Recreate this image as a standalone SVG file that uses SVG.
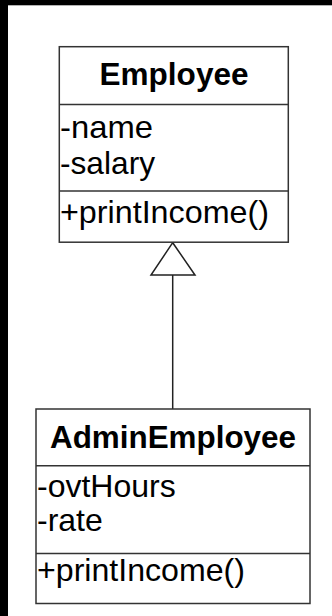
<svg xmlns="http://www.w3.org/2000/svg" width="332" height="616" viewBox="0 0 332 616">
<style>
.box{fill:#fff;stroke:#333;stroke-width:1.5}
.sep{stroke:#333;stroke-width:1.5}
.t{font-family:"Liberation Sans",Arial,sans-serif;font-size:32px;fill:#000}
.b{font-weight:bold}
.c{stroke:#222;stroke-width:1.5;fill:none}
</style>
<rect x="0" y="0" width="332" height="616" fill="#fff"/>
<rect x="0" y="0" width="332" height="5.3" fill="#000"/>
<rect x="0" y="0" width="8" height="616" fill="#000"/>
<g id="connectors">
<line class="c" x1="172.7" y1="275" x2="172.7" y2="409"/>
<polygon class="c" points="172.7,242.7 151,275 195,275" style="fill:#fff"/>
</g>
<g id="employee">
<rect class="box" x="59.3" y="46.7" width="229" height="195.5"/>
<line class="sep" x1="59.3" y1="104.5" x2="288.3" y2="104.5"/>
<line class="sep" x1="59.3" y1="191" x2="288.3" y2="191"/>
<text class="t b" x="174" y="84.5" text-anchor="middle" textLength="149" lengthAdjust="spacingAndGlyphs">Employee</text>
<text class="t" x="60" y="137.5" textLength="93" lengthAdjust="spacingAndGlyphs">-name</text>
<text class="t" x="60" y="173.5" textLength="95" lengthAdjust="spacingAndGlyphs">-salary</text>
<text class="t" x="60" y="222.5" textLength="209" lengthAdjust="spacingAndGlyphs">+printIncome()</text>
</g>
<g id="adminemployee">
<rect class="box" x="36" y="409" width="274" height="194.5"/>
<line class="sep" x1="36" y1="465.7" x2="310" y2="465.7"/>
<line class="sep" x1="36" y1="553.5" x2="310" y2="553.5"/>
<text class="t b" x="173" y="447.5" text-anchor="middle" textLength="246" lengthAdjust="spacingAndGlyphs">AdminEmployee</text>
<text class="t" x="37" y="496.5">-ovtHours</text>
<text class="t" x="37" y="531">-rate</text>
<text class="t" x="37" y="580.5" textLength="208" lengthAdjust="spacingAndGlyphs">+printIncome()</text>
</g>
</svg>
